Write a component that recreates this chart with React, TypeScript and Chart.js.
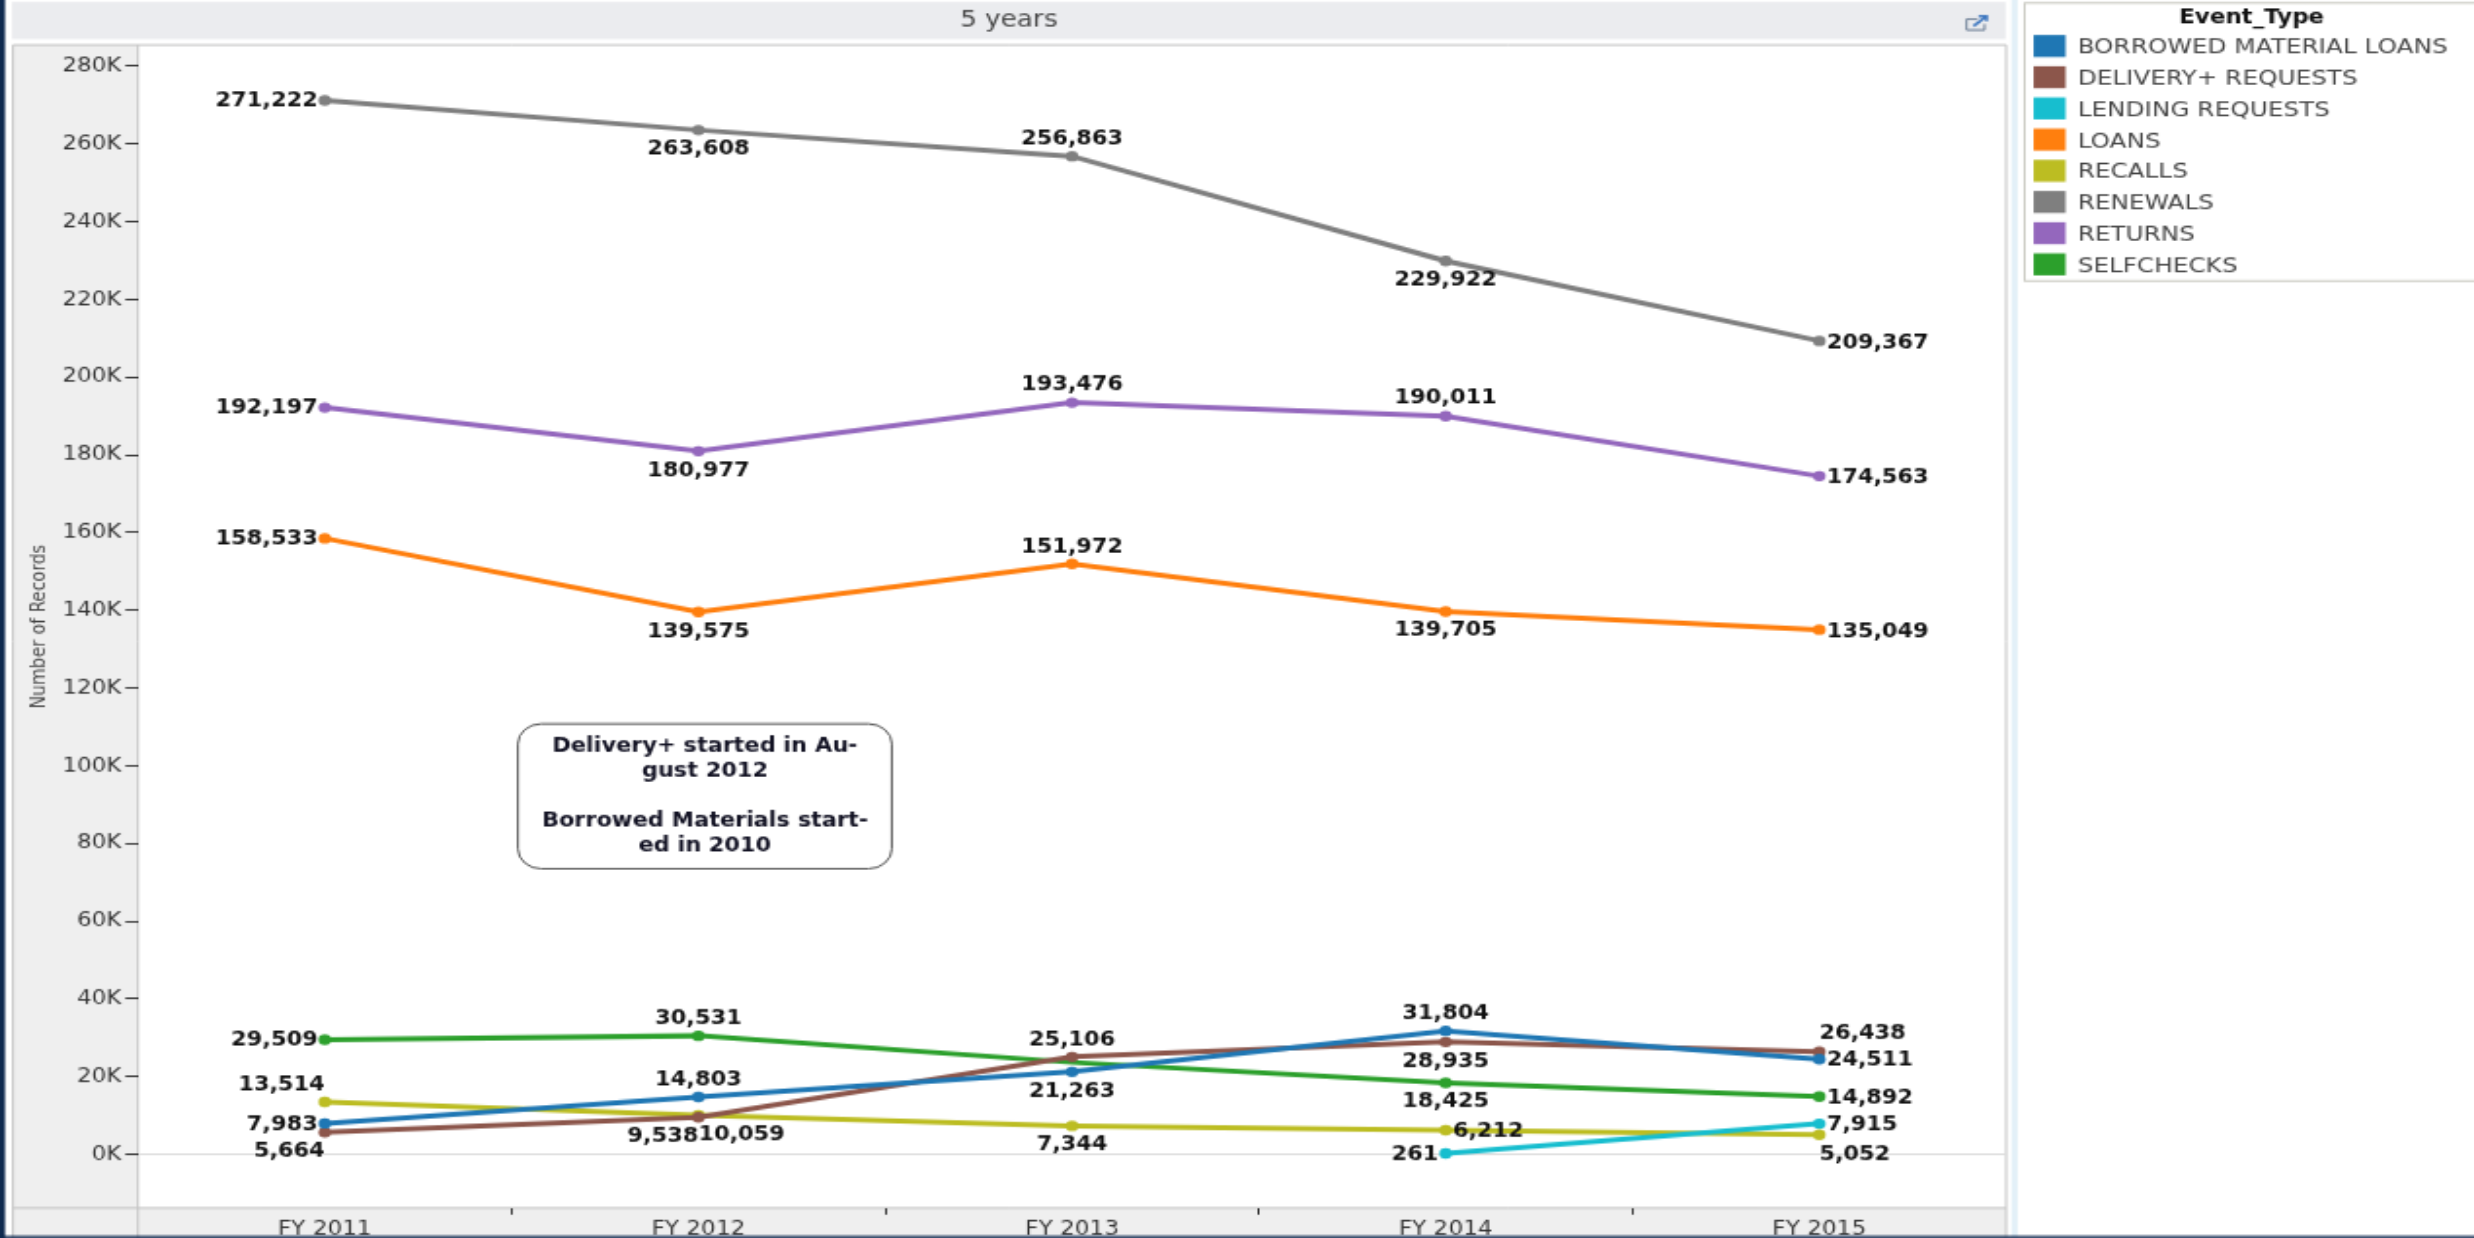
import React, { useEffect, useRef } from "react";
import { Chart, registerables } from "chart.js";

Chart.register(...registerables);

const fiscalYears = ["FY 2011", "FY 2012", "FY 2013", "FY 2014", "FY 2015"];
const borrowed = [7983, 14803, 21263, 31804, 24511];
const delivery = [5664, 9538, 25106, 28935, 26438];
const lending = [null, null, null, 261, 7915];
const loans = [158533, 139575, 151972, 139705, 135049];
const recalls = [13514, 10059, 7344, 6212, 5052];
const renewals = [271222, 263608, 256863, 229922, 209367];
const returnsSeries = [192197, 180977, 193476, 190011, 174563];
const selfchecks = [29509, 30531, 23700, 18425, 14892];
const unmarked = [[], [], [], [], [], [], [], [2]];
const yTicks = [0, 20, 40, 60, 80, 100, 120, 140, 160, 180, 200, 220, 240, 260, 280];

const seriesNames = ["BORROWED MATERIAL LOANS", "DELIVERY+ REQUESTS", "LENDING REQUESTS", "LOANS", "RECALLS", "RENEWALS", "RETURNS", "SELFCHECKS"];
const seriesColors = ["#1f77b4", "#8c564b", "#17becf", "#ff7f0e", "#bcbd22", "#7f7f7f", "#9467bd", "#2ca02c"];
const seriesValues = [borrowed, delivery, lending, loans, recalls, renewals, returnsSeries, selfchecks];
const labelSides = [
  ["L", "T", "B", "T", "R"],
  ["BL", "BL", "T", "B", "TR"],
  ["", "", "", "L", "R"],
  ["L", "B", "T", "B", "R"],
  ["TL", "BR", "B", "R", "BR"],
  ["L", "B", "T", "B", "R"],
  ["L", "B", "T", "T", "R"],
  ["L", "T", "", "B", "R"],
];
const calloutLines = ["Delivery+ started in Au-", "gust 2012", "", "Borrowed Materials start-", "ed in 2010"];

const PAGE_W = 2474;
const PAGE_H = 1238;
const SX = 1.95;
const SY = 1.66;
const X = (p: number) => p / SX;
const Y = (p: number) => p / SY;
const FONT = '"DejaVu Sans"';

const chrome = {
  id: "chrome",
  beforeDraw(chart: any) {
    const c = chart.ctx;
    const a = chart.chartArea;
    c.save();
    c.fillStyle = "#ffffff";
    c.fillRect(0, 0, chart.width, chart.height);
    c.fillStyle = "#ebecef";
    c.fillRect(X(12), Y(2), X(1994), Y(37));
    c.fillStyle = "#e3f0f8";
    c.fillRect(X(2012), 0, X(6), chart.height);
    c.fillStyle = "#efefef";
    c.fillRect(X(12), Y(45), a.left - X(12), chart.height - Y(45));
    c.fillRect(a.left, a.bottom, a.right - a.left, chart.height - a.bottom);
    c.strokeStyle = "#c4c4c4";
    c.lineWidth = 1;
    c.beginPath();
    c.moveTo(X(13), chart.height);
    c.lineTo(X(13), Y(45));
    c.lineTo(a.right, Y(45));
    c.lineTo(a.right, chart.height);
    c.moveTo(a.left, Y(45));
    c.lineTo(a.left, chart.height);
    c.moveTo(X(13), a.bottom);
    c.lineTo(a.right, a.bottom);
    c.stroke();
    c.restore();
  },
  afterDraw(chart: any) {
    const c = chart.ctx;
    c.save();
    c.fillStyle = "#0f2a4f";
    c.fillRect(0, 0, X(5), chart.height);
    c.fillRect(0, Y(1236), chart.width, Y(2));

    c.fillStyle = "#444444";
    c.font = `13.5px ${FONT}`;
    c.textAlign = "center";
    c.textBaseline = "middle";
    c.fillText("5 years", X(1009), Y(20.5));

    c.strokeStyle = "#6d7f96";
    c.lineWidth = 1;
    c.beginPath();
    c.moveTo(X(1978), Y(19));
    c.lineTo(X(1967), Y(19));
    c.lineTo(X(1967), Y(30));
    c.lineTo(X(1985), Y(30));
    c.lineTo(X(1985), Y(24));
    c.stroke();
    c.strokeStyle = "#3f78c0";
    c.lineWidth = 1.5;
    c.beginPath();
    c.moveTo(X(1974), Y(26));
    c.lineTo(X(1986), Y(17));
    c.moveTo(X(1979), Y(16));
    c.lineTo(X(1987), Y(16));
    c.lineTo(X(1987), Y(21));
    c.stroke();

    c.strokeStyle = "#c9c9c0";
    c.lineWidth = 1;
    c.strokeRect(X(2025), Y(3), chart.width - X(2025) + 2, Y(278));
    c.fillStyle = "#111111";
    c.font = `bold 11.8px ${FONT}`;
    c.fillText("Event_Type", X(2252), Y(18));
    c.font = `12.7px ${FONT}`;
    c.textAlign = "left";
    seriesNames.forEach((name, i) => {
      const top = 35 + i * 31.2;
      c.fillStyle = seriesColors[i];
      c.fillRect(X(2034), Y(top), X(32), Y(22));
      c.fillStyle = "#444444";
      c.fillText(name, X(2078), Y(top + 13));
    });

    c.fillStyle = "#ffffff";
    c.strokeStyle = "#555555";
    c.lineWidth = 1;
    c.beginPath();
    c.roundRect(X(518), Y(724), X(374), Y(145), 12);
    c.fill();
    c.stroke();
    c.fillStyle = "#111122";
    c.font = `bold 11.5px ${FONT}`;
    c.textAlign = "center";
    const lineY = [747, 772, 796, 821, 846];
    calloutLines.forEach((t, i) => {
      if (t) c.fillText(t, X(705), Y(lineY[i]));
    });
    c.restore();
  },
  afterDatasetsDraw(chart: any) {
    const c = chart.ctx;
    c.save();
    c.fillStyle = "#111111";
    c.font = `bold 11.5px ${FONT}`;
    c.textBaseline = "middle";
    seriesValues.forEach((vals, s) => {
      const meta = chart.getDatasetMeta(s);
      vals.forEach((v, i) => {
        const side = labelSides[s][i];
        if (v == null || !side) return;
        const pt = meta.data[i];
        const text = v.toLocaleString("en-US");
        const gapX = 3.7;
        const above = 10.2;
        const below = 12;
        let x = pt.x;
        let y = pt.y;
        c.textAlign = "center";
        if (side === "L") { x -= gapX; y += 0.8; c.textAlign = "right"; }
        if (side === "R") { x += gapX; y += 1.2; c.textAlign = "left"; }
        if (side === "T") y -= above;
        if (side === "B") y += below;
        if (side === "TL") { y -= above; c.textAlign = "right"; }
        if (side === "TR") { y -= above; c.textAlign = "left"; }
        if (side === "BL") { y += below; c.textAlign = "right"; }
        if (side === "BR") { y += below; c.textAlign = "left"; }
        c.fillText(text, x, y);
      });
    });
    c.restore();
  },
};

export default function App() {
  const ref = useRef<HTMLCanvasElement>(null);
  useEffect(() => {
    document.body.style.margin = "0";
    document.body.style.overflow = "hidden";
    const canvas = ref.current as HTMLCanvasElement;
    const chart = new Chart(canvas, {
      type: "line",
      plugins: [chrome],
      data: {
        labels: fiscalYears,
        datasets: seriesNames.map((label, i) => ({
          label,
          data: seriesValues[i],
          borderColor: seriesColors[i],
          backgroundColor: seriesColors[i],
          borderWidth: 3,
          pointRadius: (ctx: any) => (unmarked[i].includes(ctx.dataIndex) ? 0 : 3.2),
          pointBorderWidth: 0,
          tension: 0,
          spanGaps: false,
        })),
      },
      options: {
        animation: false,
        responsive: false,
        devicePixelRatio: 1,
        layout: { padding: { left: 0, top: Y(45), right: X(PAGE_W - 2006), bottom: 0 } },
        plugins: { legend: { display: false }, title: { display: false }, tooltip: { enabled: false } },
        scales: {
          x: {
            type: "category",
            offset: true,
            afterFit(s: any) { s.height = Y(PAGE_H - 1208); },
            border: { display: false },
            grid: {
              offset: true,
              drawOnChartArea: false,
              tickLength: 4,
              tickColor: (ctx: any) => (ctx.index === undefined || ctx.index === 0 ? "rgba(0,0,0,0)" : "#333333"),
            },
            ticks: { color: "#333333", font: { family: FONT, size: 11.9 }, padding: 1.5, maxRotation: 0 },
          },
          y: {
            min: -13800,
            max: 285500,
            afterFit(s: any) { s.width = X(138); },
            afterBuildTicks(s: any) { s.ticks = yTicks.map((k) => ({ value: k * 1000 })); },
            border: { display: false },
            grid: {
              color: (ctx: any) => (ctx.tick && ctx.tick.value === 0 ? "#dddddd" : "rgba(0,0,0,0)"),
              tickColor: "#333333",
              tickLength: 6.5,
            },
            ticks: {
              color: "#333333",
              font: { family: FONT, size: 11.8 },
              padding: 2,
              callback: (v: any) => `${Number(v) / 1000}K`,
            },
            title: {
              display: true,
              text: "Number of Records",
              color: "#444444",
              font: { family: FONT, size: 10.3 },
              padding: { top: 14, bottom: 0 },
            },
          },
        },
      },
    } as any);
    return () => chart.destroy();
  }, []);
  return (
    <canvas
      ref={ref}
      width={Math.round(PAGE_W / SX)}
      height={Math.round(PAGE_H / SY)}
      style={{ display: "block", width: PAGE_W, height: PAGE_H }}
    />
  );
}
